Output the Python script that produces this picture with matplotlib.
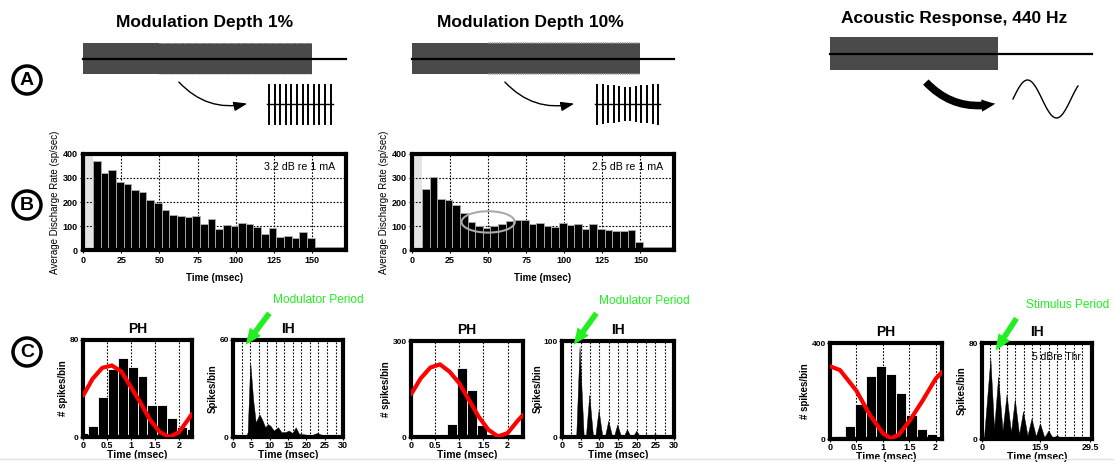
import numpy as np
import matplotlib
matplotlib.use('Agg')
import matplotlib.pyplot as plt
from matplotlib.patches import FancyArrowPatch, Ellipse, Circle

plt.rcParams['font.family'] = ['Liberation Sans', 'DejaVu Sans']

W, H = 1114, 462

# ---------------- data ----------------
# row B: average discharge rate (sp/sec), 5 ms bins
rate_bin0 = 6.5
rate_binw = 5.0
rate_1pct = [372, 322, 332, 283, 277, 250, 242, 208, 194, 165,
             146, 140, 137, 143, 107, 131, 89, 106, 100, 113,
             110, 96, 68, 92, 54, 59, 52, 76, 49, 12, 12, 12, 11]
rate_10pct = [254, 304, 212, 209, 187, 153, 117, 99, 93, 102,
              110, 120, 124, 127, 110, 114, 100, 96, 112, 106,
              107, 89, 107, 89, 85, 78, 81, 85, 35, 12, 12, 12, 12]
level_1pct = '3.2 dB re 1 mA'
level_10pct = '2.5 dB re 1 mA'

# stimulus time course (ms)
stim_off = 150
mod_on = 50
acoustic_off = 110
t_end = 172

# row C: period histograms (bin counts)
ph1_counts = [3, 9, 33, 56, 65, 58, 50, 26, 26, 16, 8, 7]
ph1_period = 2.27
ph2_counts = [0, 0, 0, 0, 40, 217, 147, 38, 2, 0, 0, 0]
ph2_period = 2.32
ph3_counts = [7, 14, 55, 147, 262, 305, 270, 191, 102, 43, 20]
ph3_period = 2.12

# stimulus waveform drawn over the PH
ph1_wave_t = [0, 0.2, 0.4, 0.6, 0.8, 1.0, 1.2, 1.4, 1.6, 1.8, 2.0, 2.2, 2.27]
ph1_wave_y = [34, 48, 57, 59, 54, 41, 28, 14, 4, 0, 4, 15, 19]
ph2_wave_t = [0, 0.2, 0.4, 0.6, 0.8, 1.0, 1.2, 1.4, 1.6, 1.8, 2.0, 2.2, 2.32]
ph2_wave_y = [133, 183, 217, 227, 204, 168, 116, 64, 23, 2, 12, 49, 69]
ph3_wave_t = [0, 0.19, 0.5, 0.75, 1.0, 1.15, 1.3, 1.5, 1.75, 2.0, 2.12]
ph3_wave_y = [303, 287, 201, 102, 24, 3, 17, 74, 159, 251, 279]

# row C: interval histograms (vertices of filled outline)
ih1_t = [0, 3.5, 4.0, 4.7, 5.5, 6.2, 7.2, 7.9, 8.8, 9.5, 10.2, 11.1, 12.3, 13.2,
         14.3, 15.2, 16.2, 17.1, 18.0, 19.9, 21.2, 23.0, 24.0, 25.9, 27.2, 29.0, 30]
ih1_n = [0, 0, 3, 46, 23, 9, 14, 11, 6, 8, 7, 4, 6, 3,
         3, 4, 2.5, 6, 2, 1.5, 1, 2.5, 1.5, 1, 1.2, 0.8, 0.8]
ih2_t = [0, 3.8, 4.7, 5.8, 6.4, 7.3, 8.3, 8.9, 9.8, 10.8, 11.5, 12.4, 13.4, 13.9,
         14.8, 15.8, 16.5, 17.4, 18.4, 19.0, 19.9, 20.9, 21.6, 22.5, 23.4, 24.1,
         24.9, 25.8, 30]
ih2_n = [0, 0, 94, 2, 0.5, 44, 1, 0.5, 28, 1, 0.5, 17, 1, 0.5,
         13, 1, 0.5, 8, 0.5, 0.5, 6.5, 0.5, 0.3, 3, 0.3, 0.3,
         3.5, 0.3, 0.2]
ih3_t = [0, 0.5, 2.28, 3.3, 4.4, 5.6, 6.7, 7.9, 8.95, 10.1, 11.2, 12.4, 13.5,
         14.7, 15.8, 17.0, 18.1, 19.3, 20.4, 21.6, 22.6, 23.8, 24.9, 26.0, 29.5]
ih3_n = [0, 0, 67, 8.5, 52, 7, 37, 5.7, 33, 4, 23, 3, 17,
         2.3, 13, 1.4, 7, 0.9, 3, 0.5, 1.5, 0.4, 1, 0.3, 0.3]
ih1_period = 2.33
ih2_period = 2.5
ih3_period = 2.27

# schematic spike trains (relative spike heights)
spikes_1pct = [1.0] * 12
spikes_10pct = [1.0, 0.97, 0.94, 0.9, 0.86, 0.83, 0.83, 0.86, 0.9, 0.94, 0.98, 1.0]

green = '#22ee22'
bold = dict(fontweight='bold')

fig = plt.figure(figsize=(W / 100, H / 100), dpi=100)


def px_axes(l, t, r, b):
    return fig.add_axes([l / W, 1 - b / H, (r - l) / W, (b - t) / H])


def frame(ax, lw=3):
    for s in ax.spines.values():
        s.set_linewidth(lw)
        s.set_color('k')
    ax.tick_params(length=2, width=0.8, pad=1)


def dotted_v(ax, xs):
    for x in xs:
        ax.axvline(x, color='k', ls=(0, (1.5, 1.5)), lw=0.8, zorder=1)


# ---------------- row A: stimulus schematics ----------------
def stim_axes(l, r, t, b, off, mod, depth, col):
    ax = px_axes(l, t, r, b)
    ax.set_xlim(0, t_end)
    ax.set_ylim(-1, 1)
    ax.axis('off')
    ax.fill_between([0, off], -1, 1, color='#4a4a4a', lw=0)
    ax.plot([0, t_end], [0, 0], color='k', lw=1.6, clip_on=False)
    if mod is not None:
        for y in (-1, 1):
            ax.plot([mod, off], [y, y], color=col, lw=depth,
                    ls=(0, (0.6, 0.6)), clip_on=False)
    return ax


stim_axes(83, 346, 43, 74, stim_off, mod_on, 0.7, '#bdbdbd')
stim_axes(412, 674, 43, 74, stim_off, mod_on, 1.3, '#a0a0a0')
stim_axes(830, 1092, 37, 70, acoustic_off, None, 0, None)

# ---------------- row B: rate histograms ----------------
def rate_panel(l, r, rates, label, ellipse=False):
    ax = px_axes(l, 154, r, 250)
    edges = rate_bin0 + rate_binw * np.arange(len(rates))
    ax.axvspan(0, rate_bin0, color='#e4e4e4', lw=0, zorder=0)
    dotted_v(ax, [25, 50, 75, 100, 125, 150])
    for y in (100, 200, 300):
        ax.axhline(y, color='k', ls=(0, (1.5, 1.5)), lw=0.8, zorder=1)
    ax.bar(edges, rates, width=rate_binw, align='edge', color='k',
           edgecolor='#b0b0b0', lw=0.6, zorder=2)
    ax.set_xlim(0, t_end)
    ax.set_ylim(0, 400)
    ax.set_xticks([0, 25, 50, 75, 100, 125, 150],
                  labels=['0', '25', '50', '75', '100', '125', '150'],
                  fontsize=6.5, **bold)
    ax.set_yticks([0, 100, 200, 300, 400],
                  labels=['0', '100', '200', '300', '400'], fontsize=6.5, **bold)
    ax.set_xlabel('Time (msec)', fontsize=7, labelpad=6, **bold)
    ax.set_ylabel('Average Discharge Rate (sp/sec)', fontsize=7, labelpad=2)
    ax.text(0.96, 0.86, label, transform=ax.transAxes, ha='right', va='center',
            fontsize=7.7, zorder=3)
    if ellipse:
        ax.add_patch(Ellipse((50, 117), 35, 89, fill=False, ec='#aaaaaa',
                             lw=1.5, zorder=3))
    frame(ax)
    ax.tick_params(length=2, pad=2)
    return ax


rate_panel(83, 346, rate_1pct, level_1pct)
rate_panel(412, 674, rate_10pct, level_10pct, ellipse=True)

# ---------------- row C: PH and IH ----------------
def ph_panel(l, t, r, b, counts, period, wave_t, wave_y, ymax):
    ax = px_axes(l, t, r, b)
    binw = period / (len(counts) - 1) if len(counts) == 12 else period / len(counts)
    centers = binw * np.arange(len(counts))
    dotted_v(ax, [0.5, 1, 1.5, 2])
    ax.bar(centers, counts, width=binw, color='k', edgecolor='white', lw=0.6,
           zorder=2)
    ax.plot(wave_t, wave_y, color='red', lw=3, zorder=3, solid_capstyle='round')
    ax.set_xlim(0, period)
    ax.set_ylim(0, ymax)
    ax.set_xticks([0, 0.5, 1, 1.5, 2], labels=['0', '0.5', '1', '1.5', '2'],
                  fontsize=6.5, **bold)
    ax.set_yticks([0, ymax], labels=['0', str(ymax)], fontsize=6, **bold)
    ax.set_xlabel('Time (msec)', fontsize=7.5, labelpad=0, **bold)
    ax.set_ylabel('# spikes/bin', fontsize=7, labelpad=1, **bold)
    ax.set_title('PH', fontsize=10, pad=5, **bold)
    frame(ax)
    return ax


def ih_panel(l, t, r, b, ts, ns, period, ymax, xmax, xticks, xlabels):
    ax = px_axes(l, t, r, b)
    dotted_v(ax, period * np.arange(1, int(xmax / period) + 1))
    ax.fill_between(ts, ns, color='k', lw=0.3, zorder=2)
    ax.set_xlim(0, xmax)
    ax.set_ylim(0, ymax)
    ax.set_xticks(xticks, labels=xlabels, fontsize=6.5, **bold)
    ax.set_yticks([0, ymax], labels=['0', str(ymax)], fontsize=6, **bold)
    ax.set_xlabel('Time (msec)', fontsize=7.5, labelpad=0, **bold)
    ax.set_ylabel('Spikes/bin', fontsize=7, labelpad=1, **bold)
    ax.set_title('IH', fontsize=10, pad=5, **bold)
    frame(ax)
    return ax


ih_ticks = [0, 5, 10, 15, 20, 25, 30]
ih_labels = [str(v) for v in ih_ticks]

ph_panel(83, 340, 192, 437, ph1_counts, ph1_period, ph1_wave_t, ph1_wave_y, 80)
ih_panel(233, 340, 343, 437, ih1_t, ih1_n, ih1_period, 60, 30, ih_ticks, ih_labels)
ph_panel(411, 341, 523, 437, ph2_counts, ph2_period, ph2_wave_t, ph2_wave_y, 300)
ih_panel(562, 341, 674, 437, ih2_t, ih2_n, ih2_period, 100, 30, ih_ticks, ih_labels)
ph_panel(830, 343, 942, 439, ph3_counts, ph3_period, ph3_wave_t, ph3_wave_y, 400)
ih3 = ih_panel(982, 343, 1092, 439, ih3_t, ih3_n, ih3_period, 80, 30,
               [0, 15.9, 29.5], ['0', '15.9', '29.5'])
ih3.text(0.45, 0.85, '5 dBre Thr', transform=ih3.transAxes, fontsize=7.5,
         va='center', ha='left', zorder=3)

# ---------------- overlay: letters, arrows, spikes ----------------
ov = fig.add_axes([0, 0, 1, 1])
ov.set_xlim(0, W)
ov.set_ylim(H, 0)
ov.axis('off')

for letter, yc in (('A', 80), ('B', 205), ('C', 352)):
    ov.add_patch(Circle((27, yc), 14, fill=False, ec='k', lw=2.5))
    ov.text(27, yc + 0.5, letter, ha='center', va='center', fontsize=14, **bold)

ov.text(205, 22, 'Modulation Depth 1%', ha='center', va='center', fontsize=12.5, **bold)
ov.text(530, 22, 'Modulation Depth 10%', ha='center', va='center', fontsize=12.5, **bold)
ov.text(954, 18, 'Acoustic Response, 440 Hz', ha='center', va='center',
        fontsize=12.5, **bold)

# thin curved arrows to spike trains
for x0, x1 in ((177, 250), (503, 577)):
    ov.add_patch(FancyArrowPatch((x0, 80), (x1, 103), connectionstyle='arc3,rad=0.3',
                                 arrowstyle='-|>,head_length=0.8,head_width=0.28',
                                 mutation_scale=10, lw=1, color='k'))
# thick arrow for the acoustic response
ov.add_patch(FancyArrowPatch((924, 80), (998, 103), connectionstyle='arc3,rad=0.3',
                             arrowstyle='simple,head_length=0.9,head_width=0.8,tail_width=0.5',
                             mutation_scale=11, color='k', lw=0))

# spike trains
for x0, dx, amps in ((269, 5.6, spikes_1pct), (597, 5.55, spikes_10pct)):
    xs = x0 + dx * np.arange(len(amps))
    for x, a in zip(xs, amps):
        ov.plot([x, x], [104 - 19.5 * a, 104 + 19.5 * a], color='k', lw=1.4)
    ov.plot([xs[0] - 2, xs[-1] + 2], [104, 104], color='k', lw=1)

# tone waveform icon
ph = np.linspace(0, 1.12, 100)
ov.plot(1013 + 58 * ph, 99 - 19 * np.sin(2 * np.pi * ph), color='k', lw=1)

# green period markers
for txt, tx, ty, tail, tip in (('Modulator Period', 318, 300, (271, 311), (244, 347)),
                               ('Modulator Period', 644, 301, (598, 311), (572, 347)),
                               ('Stimulus Period', 1068, 305, (1018, 316), (994, 353))):
    ov.text(tx, ty, txt, ha='center', va='center', fontsize=8.6, color=green)
    ov.add_patch(FancyArrowPatch(tail, tip,
                                 arrowstyle='simple,head_length=1.3,head_width=1.1,tail_width=0.45',
                                 mutation_scale=9, color=green, lw=0))

ov.plot([0, W], [459, 459], color='#e2e2e2', lw=1)

fig.savefig('out.png', dpi=100)
